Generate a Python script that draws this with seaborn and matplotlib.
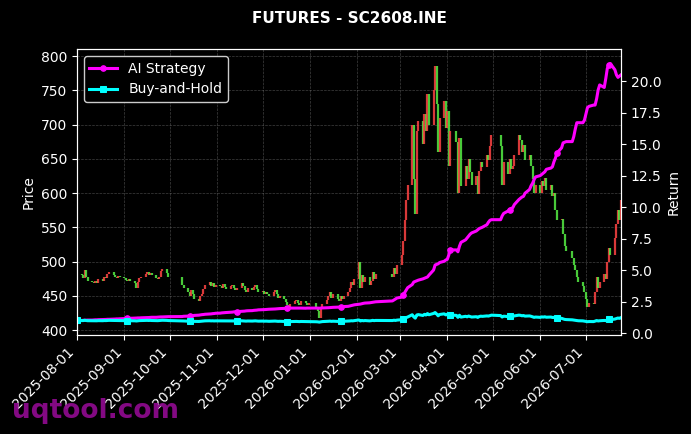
import numpy as np
import pandas as pd
import matplotlib
matplotlib.use("Agg")
import matplotlib.pyplot as plt
import matplotlib.dates as mdates
import seaborn as sns

title = "FUTURES - SC2608.INE"
start_date = "2025-08-01"
end_date = "2026-07-24"
holidays = ["2025-10-01", "2025-10-02", "2025-10-03", "2025-10-06", "2025-10-07", "2025-10-08",
            "2026-01-01", "2026-01-02",
            "2026-02-16", "2026-02-17", "2026-02-18", "2026-02-19", "2026-02-20", "2026-02-23",
            "2026-04-06", "2026-05-01", "2026-05-04", "2026-05-05", "2026-06-19"]

# daily closing prices, month by month
close_aug = [482, 480, 476, 488, 478, 472, 470, 468, 471, 469, 474, 472, 478, 476, 482, 485, 480, 478, 476, 479, 477]
close_sep = [476, 473, 472, 474, 471, 468, 462, 470, 476, 478, 482, 485, 481, 484, 480, 476, 474, 478, 486, 489, 484, 478]
close_oct = [466, 462, 455, 450, 458, 452, 446, 443, 449, 452, 460, 466, 470, 465, 468, 463, 466]
close_nov = [465, 462, 467, 463, 460, 464, 466, 461, 458, 462, 468, 464, 459, 456, 461, 458, 463, 466, 460, 455]
close_dec = [457, 453, 456, 452, 449, 455, 458, 452, 447, 450, 445, 441, 436, 432, 438, 442, 444, 440, 437, 442, 440, 436, 439]
close_jan = [432, 428, 418, 430, 438, 444, 450, 455, 447, 452, 446, 443, 449, 445, 450, 456, 462, 470, 466, 475]
close_feb = [500, 462, 480, 470, 478, 466, 472, 485, 475, 482, 478, 490, 482, 495]
close_mar = [510, 530, 560, 590, 612, 700, 620, 570, 690, 705, 672, 715, 690, 745, 700, 750, 785, 730, 660, 710, 735, 695]
close_apr = [720, 640, 690, 675, 600, 680, 610, 640, 620, 650, 630, 612, 625, 598, 632, 645, 638, 655, 648, 668, 684]
close_may = [668, 612, 645, 628, 650, 635, 640, 655, 685, 678, 660, 670, 648, 655, 640, 620, 600, 612]
close_jun = [600, 618, 610, 622, 605, 612, 595, 600, 575, 560, 562, 540, 522, 515, 505, 495, 488, 478, 470, 465, 455]
close_jul = [445, 434, 440, 438, 455, 478, 462, 470, 482, 475, 500, 520, 510, 535, 555, 575, 560, 590]

# AI strategy cumulative return, month by month
strat_aug = [1.00, 1.00, 1.01, 1.02, 1.02, 1.03, 1.03, 1.04, 1.05, 1.05, 1.06, 1.07, 1.07, 1.08, 1.09, 1.09, 1.10, 1.11, 1.12, 1.12, 1.13]
strat_sep = [1.14, 1.15, 1.16, 1.17, 1.17, 1.18, 1.19, 1.20, 1.20, 1.21, 1.22, 1.23, 1.23, 1.24, 1.25, 1.25, 1.26, 1.27, 1.28, 1.28, 1.29, 1.30]
strat_oct = [1.31, 1.33, 1.34, 1.35, 1.37, 1.38, 1.40, 1.42, 1.44, 1.46, 1.47, 1.49, 1.51, 1.52, 1.54, 1.55, 1.57]
strat_nov = [1.58, 1.60, 1.61, 1.62, 1.63, 1.65, 1.66, 1.68, 1.69, 1.70, 1.72, 1.73, 1.74, 1.76, 1.77, 1.78, 1.80, 1.81, 1.82, 1.84]
strat_dec = [1.85, 1.86, 1.87, 1.88, 1.89, 1.90, 1.91, 1.92, 1.93, 1.94, 1.95, 1.96, 1.97, 1.97, 1.98, 1.98, 1.98, 1.98, 1.98, 1.98, 1.97, 1.98, 1.98]
strat_jan = [1.98, 1.98, 1.97, 1.98, 1.99, 2.00, 2.01, 2.02, 2.03, 2.04, 2.05, 2.06, 2.07, 2.08, 2.10, 2.12, 2.15, 2.18, 2.21, 2.24]
strat_feb = [2.28, 2.30, 2.33, 2.36, 2.38, 2.40, 2.42, 2.44, 2.46, 2.48, 2.55, 2.62, 2.70, 2.78]
strat_mar = [2.85, 3.05, 3.20, 3.40, 3.60, 3.85, 4.05, 4.10, 4.15, 4.20, 4.30, 4.35, 4.40, 4.45, 4.60, 5.00, 5.40, 5.45, 5.50, 5.60, 5.70, 5.80]
strat_apr = [5.85, 6.20, 6.60, 6.60, 6.45, 6.90, 7.20, 7.40, 7.55, 7.70, 7.85, 7.95, 8.10, 8.20, 8.30, 8.35, 8.40, 8.60, 8.80, 8.95, 9.00]
strat_may = [9.00, 9.30, 9.50, 9.70, 9.80, 9.90, 9.95, 10.2, 10.6, 10.7, 10.8, 10.85, 11.1, 11.4, 11.7, 11.9, 12.2, 12.4]
strat_jun = [12.5, 12.6, 12.7, 12.8, 13.0, 13.1, 13.2, 13.6, 13.9, 14.3, 14.7, 15.1, 15.15, 15.2, 15.2, 15.6, 16.2, 16.7, 16.7, 16.7, 16.9]
strat_jul = [17.4, 17.9, 18.0, 18.1, 18.1, 18.6, 19.3, 19.7, 19.5, 20.2, 21.0, 21.3, 21.4, 20.9, 20.5, 20.3, 20.4, 20.5]

series_labels = ["AI Strategy", "Buy-and-Hold"]
price_ticks = [400, 450, 500, 550, 600, 650, 700, 750, 800]
return_ticks = [0.0, 2.5, 5.0, 7.5, 10.0, 12.5, 15.0, 17.5, 20.0]

days = pd.bdate_range(start_date, end_date)
days = days[~days.isin(pd.to_datetime(holidays))]
close = np.array(close_aug + close_sep + close_oct + close_nov + close_dec + close_jan +
                 close_feb + close_mar + close_apr + close_may + close_jun + close_jul, dtype=float)
strategy = np.array(strat_aug + strat_sep + strat_oct + strat_nov + strat_dec + strat_jan +
                    strat_feb + strat_mar + strat_apr + strat_may + strat_jun + strat_jul)
assert len(days) == len(close) == len(strategy), (len(days), len(close), len(strategy))
open_ = np.r_[close[0], close[:-1]]
buy_hold = close / close[0]

plt.rcParams["font.family"] = ["DejaVu Sans"]
fig = plt.figure(figsize=(6.91, 4.34), dpi=100, facecolor="black")
ax = fig.add_axes([0.1114, 0.228, 0.7873, 0.659])
ax.set_facecolor("black")
ax2 = ax.twinx()

up = close >= open_
colors = np.where(up, "#ff4444", "#55ee44")
lo = np.minimum(open_, close)
hi = np.maximum(open_, close)
ax.vlines(days, lo, hi, colors=colors, linewidth=1.6, alpha=0.85)

df = pd.DataFrame({"date": days, "strategy": strategy, "buyhold": buy_hold})
sns.lineplot(data=df, x="date", y="strategy", ax=ax2, color="#ff00ff", linewidth=2.2,
             marker="o", markersize=4, markevery=23, markeredgecolor="#ff00ff",
             label=series_labels[0], errorbar=None)
sns.lineplot(data=df, x="date", y="buyhold", ax=ax2, color="#00ffff", linewidth=2.2,
             marker="s", markersize=4, markevery=23, markeredgecolor="#00ffff",
             label=series_labels[1], errorbar=None)

ax.set_xlim(days[0], days[-1])
ax.set_ylim(392.7, 810.2)
ax2.set_ylim(-0.16, 22.55)
ax.set_yticks(price_ticks)
ax2.set_yticks(return_ticks)
ax2.set_yticklabels([f"{t:.1f}" for t in return_ticks])
month_ticks = pd.date_range("2025-08-01", "2026-07-01", freq="MS")
ax.set_xticks(month_ticks)
ax.xaxis.set_major_formatter(mdates.DateFormatter("%Y-%m-%d"))
for lbl in ax.get_xticklabels():
    lbl.set_rotation(45)
    lbl.set_ha("right")

ax.grid(True, color="gray", linestyle="--", linewidth=0.5, alpha=0.5)
ax2.grid(False)
for a in (ax, ax2):
    a.tick_params(colors="white", labelsize=10)
    for s in a.spines.values():
        s.set_color("white")
ax.set_ylabel("Price", color="white", fontsize=10)
ax2.set_ylabel("Return", color="white", fontsize=10)
ax.set_xlabel("")
ax2.set_xlabel("")

leg = ax2.legend(loc="upper left", fontsize=10, facecolor="black", edgecolor="#cccccc",
                 framealpha=1.0, labelcolor="white")

fig.text(0.505, 0.958, title, color="white", fontsize=11, fontweight="bold", ha="center", va="center")
fig.text(0.017, 0.037, "uqtool.com", color="#8B0A8B", fontsize=19, fontweight="bold",
         ha="left", va="baseline", alpha=0.95, zorder=10)

fig.savefig("out.png", dpi=100, facecolor="black")
